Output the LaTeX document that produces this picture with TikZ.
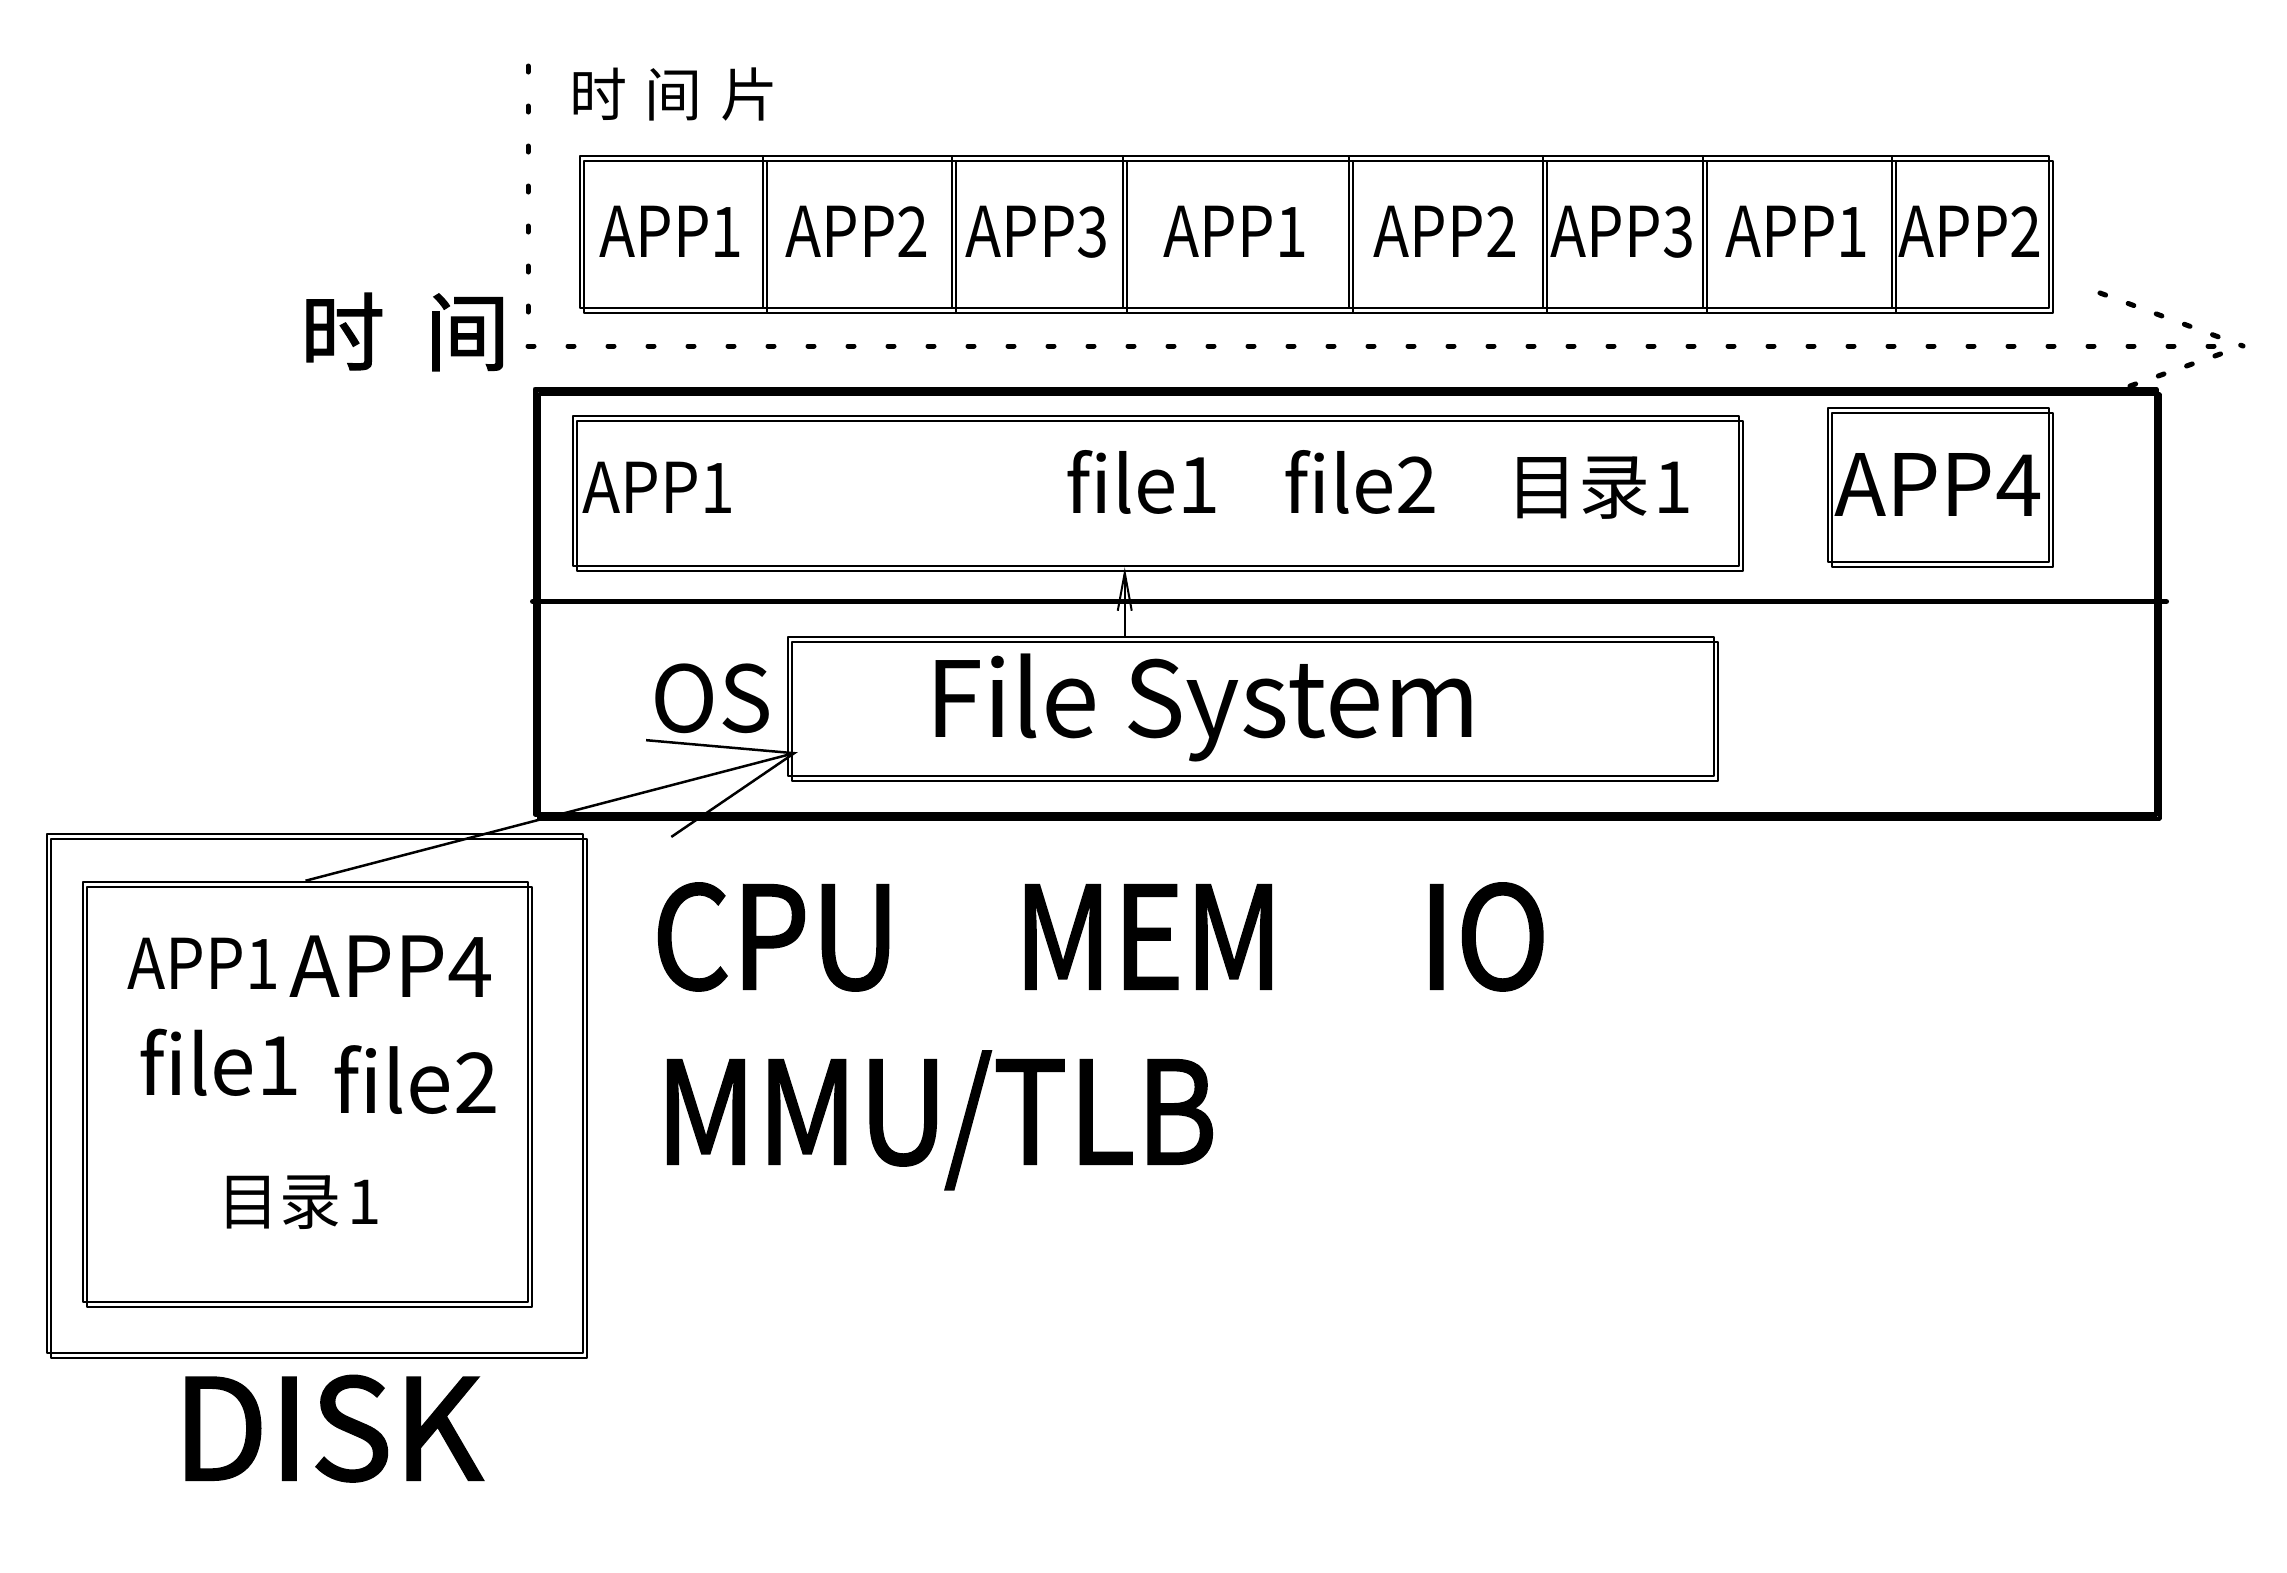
\documentclass[tikz,border=0pt]{standalone}
\usepackage{fontspec}
\setmainfont{Noto Sans CJK SC}
\newfontfamily\hwb[FakeBold=1.5]{Noto Sans CJK SC}
\usetikzlibrary{arrows.meta,calc}
\newcommand{\myNarrow}[1]{\scalebox{0.85}[1]{#1}}
\tikzset{
 sk/.style={draw, line width=#1, line cap=round, line join=round, inner sep=0pt,
   postaction={draw, line width=0.75*#1, transform canvas={shift={(4pt,-5pt)}}}},
 box/.style={sk=2.5pt},
 bigbox/.style={sk=5pt},
 cell/.style={box, minimum height=152pt, font=\fontsize{70}{80}\selectfont},
 lbl/.style={inner sep=0pt, anchor=base},
 dotl/.style={line width=5pt, line cap=round, dash pattern=on 6pt off 34pt},
 dotarm/.style={line width=5pt, line cap=round, dash pattern=on 6pt off 24pt},
 fsarrow/.style={line width=2pt, -{Straight Barb[length=38pt,width=14pt]}},
 diskarrow/.style={line width=2.5pt, -{Straight Barb[length=140pt,width=100pt]}},
}
\begin{document}
\begin{tikzpicture}[x=1pt,y=-1pt]
\path[use as bounding box, fill=white] (0,0) rectangle (2287,1572);

% time axis
\node[inner sep=0pt, font=\fontsize{58}{60}\selectfont] (slice) at (674,95) {时\hspace{18pt}间\hspace{18pt}片};
\node[inner sep=0pt, font=\hwb\fontsize{85}{90}\selectfont] (timelbl) at (405,332) {时\hspace{40pt}间};
\coordinate (vtop) at (528,66);
\coordinate (vbot) at (528,333);
\draw[dotl] (vtop) -- (vbot);
\coordinate (hstart) at (528,346);
\coordinate (htip) at (2243,346);
\coordinate (armA) at (2100,293);
\coordinate (armB) at (2130,386);
\draw[dotl] (hstart) -- (htip);
\draw[dotarm] (armA) -- (htip);
\draw[dotarm] (armB) -- (htip);

% time slices
\node[cell, minimum width=183pt] (c1) at (671.5,232) {\myNarrow{APP1}};
\node[cell, minimum width=189pt] (c2) at (857.5,232) {\myNarrow{APP2}};
\node[cell, minimum width=171pt] (c3) at (1037.5,232) {\myNarrow{APP3}};
\node[cell, minimum width=226pt] (c4) at (1236,232) {\myNarrow{APP1}};
\node[cell, minimum width=194pt] (c5) at (1446,232) {\myNarrow{APP2}};
\node[cell, minimum width=160pt] (c6) at (1623,232) {\myNarrow{APP3}};
\node[cell, minimum width=189pt] (c7) at (1797.5,232) {\myNarrow{APP1}};
\node[cell, minimum width=157pt] (c8) at (1970.5,232) {\myNarrow{APP2}};

% system box
\node[bigbox, minimum width=1621pt, minimum height=425pt] (sys) at (1345.5,601.5) {};
\draw[line width=5pt, line cap=round] (sys.west) -- ([xshift=8pt]sys.east);
\node[box, minimum width=1166pt, minimum height=150pt] (appbox) at (1156,491) {};
\node[lbl, anchor=base west, font=\fontsize{70}{80}\selectfont] (app1t) at (582,513) {\scalebox{0.9}[1]{APP1}};
\node[lbl, font=\fontsize{78}{80}\selectfont] (f1t) at (1143,513) {file1};
\node[lbl, font=\fontsize{78}{80}\selectfont] (f2t) at (1361,513) {file2};
\node[lbl, font=\fontsize{72}{80}\selectfont] (dirt) at (1600,513) {目录\hspace{4pt}1};
\node[box, minimum width=221pt, minimum height=154pt, font=\fontsize{86}{90}\selectfont] (app4) at (1938.5,485) {APP4};

\node[box, minimum width=926pt, minimum height=139pt] (fs) at (1251,706.5) {};
\node[lbl, font=\fontsize{105}{120}\selectfont] (fst) at (1203,737) {File System};
\node[lbl, font=\fontsize{92}{100}\selectfont] (os) at (712,732) {OS};

\coordinate (fsA) at ([xshift=338pt]fs.north west);
\draw[fsarrow] (fsA) -- (fsA |- appbox.south);

% disk
\node[box, minimum width=536pt, minimum height=519pt] (diskout) at (315,1093.5) {};
\node[box, minimum width=445pt, minimum height=420pt] (diskin) at (305.5,1092) {};
\node[lbl, font=\fontsize{70}{80}\selectfont] (d1) at (204,989) {\scalebox{0.9}[1]{APP1}};
\node[lbl, font=\fontsize{84}{90}\selectfont] (d2) at (392,997) {APP4};
\node[lbl, font=\fontsize{82}{90}\selectfont] (d3) at (220,1095) {file1};
\node[lbl, font=\fontsize{84}{90}\selectfont] (d4) at (416,1113) {file2};
\node[inner sep=0pt, font=\fontsize{62}{70}\selectfont] (d5) at (300,1203) {目录\hspace{6pt}1};
\node[lbl, font=\hwb\fontsize{140}{150}\selectfont] (disk) at (328,1480) {DISK};

\draw[diskarrow] (diskin.north) -- ([shift={(11pt,25pt)}]fs.south west);

% hardware
\node[lbl, font=\hwb\fontsize{142}{160}\selectfont] (cpu) at (776,989) {\scalebox{0.88}[1]{CPU}};
\node[lbl, font=\hwb\fontsize{142}{160}\selectfont] (mem) at (1148.5,989) {\scalebox{0.86}[1]{MEM}};
\node[lbl, font=\hwb\fontsize{142}{160}\selectfont] (io) at (1484,989) {\scalebox{0.9}[1]{IO}};
\node[lbl, anchor=base west, font=\hwb\fontsize{142}{160}\selectfont] (mmu) at (655,1164) {\scalebox{0.88}[1]{MMU/TLB}};
\end{tikzpicture}
\end{document}
